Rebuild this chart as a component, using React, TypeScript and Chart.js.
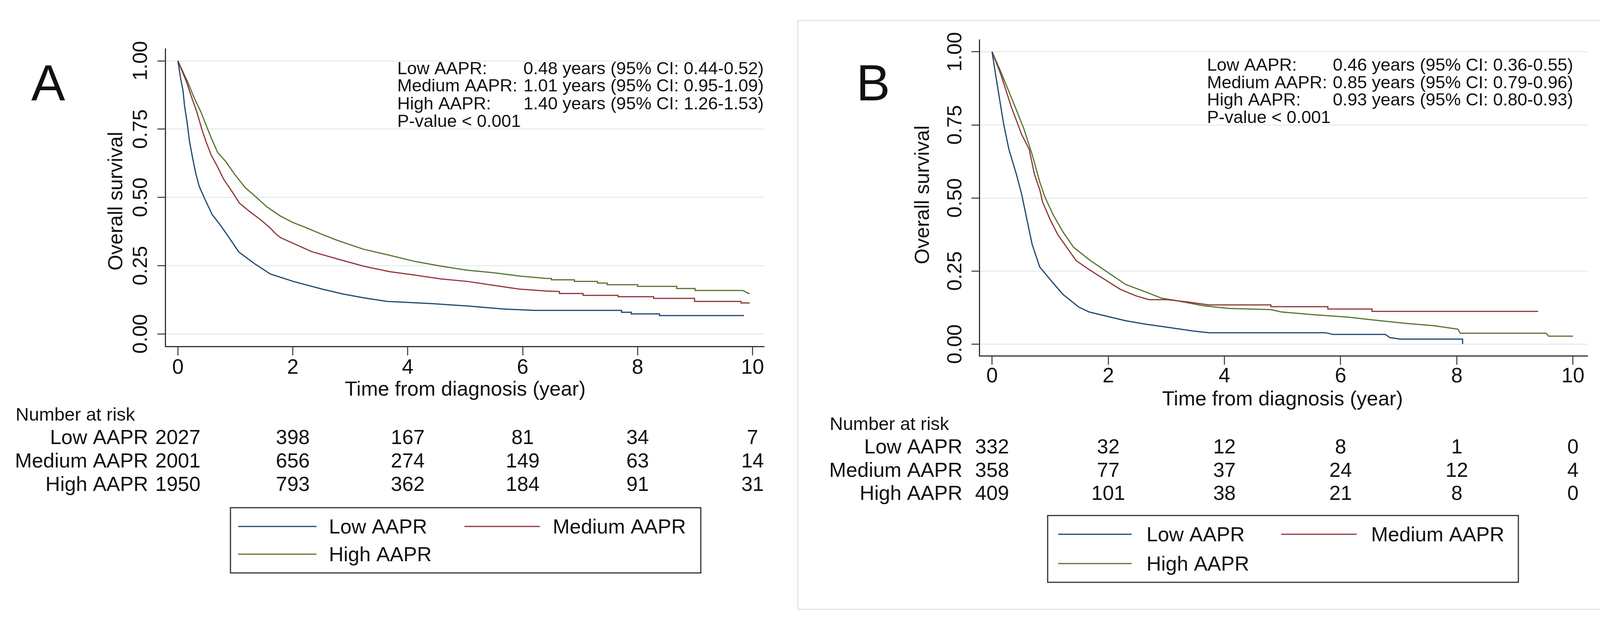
import React, { useEffect, useRef } from "react";
import { Chart, registerables } from "chart.js";

Chart.register(...registerables);

const FONT = '"Liberation Sans", Arial, Helvetica, sans-serif';
const W = 4168;
const H = 1608;

const GROUPS = ["Low AAPR", "Medium AAPR", "High AAPR"];
const COLORS = ["#1a476f", "#90353b", "#55752f"];
const X_TICKS = [0, 2, 4, 6, 8, 10];
const Y_TICKS = [0, 0.25, 0.5, 0.75, 1];
const X_TITLE = "Time from diagnosis (year)";
const Y_TITLE = "Overall survival";
const RISK_TITLE = "Number at risk";
const P_TEXT = "P-value < 0.001";
const ANNOT_LABELS = ["Low AAPR:", "Medium AAPR:", "High AAPR:"];

// ---------- Panel A ----------
const A_LOW_T = [0, 0.05, 0.09, 0.115, 0.16, 0.2, 0.25, 0.31, 0.37, 0.49, 0.6, 0.74, 0.85, 1.06, 1.34, 1.61, 2.01, 2.51, 2.87, 3.23, 3.64, 4.4, 5.04, 5.67, 6.21, 7.72, 7.72, 7.89, 7.89, 8.38, 8.38, 9.85];
const A_LOW_S = [1, 0.933, 0.89, 0.837, 0.775, 0.708, 0.651, 0.589, 0.541, 0.484, 0.436, 0.398, 0.365, 0.3, 0.256, 0.219, 0.192, 0.164, 0.146, 0.132, 0.119, 0.111, 0.102, 0.091, 0.086, 0.086, 0.079, 0.079, 0.073, 0.073, 0.067, 0.067];
const A_MED_T = [0, 0.15, 0.24, 0.33, 0.42, 0.49, 0.58, 0.69, 0.8, 0.94, 1.07, 1.26, 1.44, 1.6, 1.71, 1.79, 2.33, 2.78, 3.23, 3.68, 4.13, 4.58, 5.04, 5.49, 5.94, 6.39, 6.64, 6.64, 7.05, 7.05, 7.66, 7.66, 8.28, 8.28, 8.99, 8.99, 9.8, 9.8, 9.95];
const A_MED_S = [1, 0.923, 0.866, 0.813, 0.747, 0.704, 0.655, 0.612, 0.565, 0.522, 0.479, 0.446, 0.418, 0.389, 0.365, 0.352, 0.301, 0.274, 0.248, 0.228, 0.215, 0.201, 0.192, 0.178, 0.164, 0.157, 0.155, 0.148, 0.148, 0.141, 0.141, 0.136, 0.136, 0.13, 0.13, 0.119, 0.119, 0.113, 0.113];
const A_HIGH_T = [0, 0.17, 0.28, 0.4, 0.49, 0.58, 0.69, 0.83, 0.99, 1.17, 1.35, 1.55, 1.78, 2.0, 2.23, 2.5, 2.78, 3.23, 3.68, 4.13, 4.58, 5.04, 5.49, 5.94, 6.42, 6.5, 6.5, 6.9, 6.9, 7.3, 7.3, 7.47, 7.47, 8.0, 8.0, 8.68, 8.68, 9.0, 9.0, 9.83, 9.93, 9.95];
const A_HIGH_S = [1, 0.923, 0.866, 0.813, 0.765, 0.718, 0.665, 0.632, 0.584, 0.536, 0.503, 0.465, 0.432, 0.408, 0.389, 0.365, 0.342, 0.31, 0.288, 0.265, 0.248, 0.233, 0.224, 0.212, 0.203, 0.203, 0.198, 0.198, 0.192, 0.192, 0.186, 0.186, 0.18, 0.18, 0.174, 0.174, 0.166, 0.166, 0.159, 0.159, 0.148, 0.148];
const A_RISK_LOW = [2027, 398, 167, 81, 34, 7];
const A_RISK_MED = [2001, 656, 274, 149, 63, 14];
const A_RISK_HIGH = [1950, 793, 362, 184, 91, 31];
const A_MEDIANS = [
  "0.48 years (95% CI: 0.44-0.52)",
  "1.01 years (95% CI: 0.95-1.09)",
  "1.40 years (95% CI: 1.26-1.53)",
];

// ---------- Panel B ----------
const B_LOW_T = [0, 0.06, 0.13, 0.2, 0.29, 0.42, 0.51, 0.6, 0.69, 0.82, 1.0, 1.22, 1.49, 1.67, 1.94, 2.3, 2.65, 3.01, 3.46, 3.73, 5.74, 5.87, 6.77, 6.85, 7.03, 8.1, 8.1];
const B_LOW_S = [1, 0.923, 0.837, 0.752, 0.666, 0.58, 0.512, 0.426, 0.341, 0.264, 0.221, 0.17, 0.127, 0.11, 0.097, 0.08, 0.068, 0.058, 0.045, 0.039, 0.039, 0.033, 0.033, 0.022, 0.017, 0.017, 0.0];
const B_MED_T = [0, 0.15, 0.33, 0.51, 0.64, 0.73, 0.82, 0.87, 1.0, 1.13, 1.31, 1.45, 1.67, 1.94, 2.21, 2.48, 2.7, 3.01, 3.37, 3.73, 4.8, 4.8, 5.78, 5.78, 6.54, 6.54, 9.4];
const B_MED_S = [1, 0.923, 0.812, 0.717, 0.666, 0.58, 0.529, 0.486, 0.426, 0.375, 0.324, 0.285, 0.255, 0.221, 0.187, 0.165, 0.152, 0.152, 0.144, 0.134, 0.134, 0.128, 0.128, 0.12, 0.12, 0.112, 0.112];
const B_HIGH_T = [0, 0.15, 0.38, 0.55, 0.69, 0.82, 0.91, 1.05, 1.22, 1.4, 1.67, 1.98, 2.3, 2.65, 2.92, 3.19, 3.64, 4.08, 4.8, 4.98, 5.51, 6.14, 6.59, 7.12, 7.61, 8.02, 8.06, 9.54, 9.58, 10.0];
const B_HIGH_S = [1, 0.932, 0.82, 0.735, 0.649, 0.555, 0.503, 0.443, 0.384, 0.332, 0.289, 0.247, 0.204, 0.178, 0.157, 0.148, 0.131, 0.122, 0.118, 0.11, 0.101, 0.092, 0.082, 0.071, 0.063, 0.051, 0.037, 0.037, 0.027, 0.027];
const B_RISK_LOW = [332, 32, 12, 8, 1, 0];
const B_RISK_MED = [358, 77, 37, 24, 12, 4];
const B_RISK_HIGH = [409, 101, 38, 21, 8, 0];
const B_MEDIANS = [
  "0.46 years (95% CI: 0.36-0.55)",
  "0.85 years (95% CI: 0.79-0.96)",
  "0.93 years (95% CI: 0.80-0.93)",
];

type Panel = {
  id: string;
  letter: string;
  series: [number[], number[]][];
  risk: number[][];
  medians: string[];
  area: { left: number; right: number; top: number; bottom: number };
  xRange: [number, number];
  yRange: [number, number];
  letterX: number;
  yTickX: number;
  yTitleX: number;
  yTitleY: number;
  xTickBase: number;
  xTitleBase: number;
  riskX: number;
  riskHeaderBase: number;
  riskBases: number[];
  annotLabelX: number;
  annotValueX: number;
  annotBases: number[];
  legendBox: [number, number, number, number];
  legendRows: [number, number];
  legendCol1: [number, number, number];
  legendCol2: [number, number, number];
};

const PANELS: Panel[] = [
  {
    id: "A",
    letter: "A",
    series: [[A_LOW_T, A_LOW_S], [A_MED_T, A_MED_S], [A_HIGH_T, A_HIGH_S]],
    risk: [A_RISK_LOW, A_RISK_MED, A_RISK_HIGH],
    medians: A_MEDIANS,
    area: { left: 423, right: 1956, top: 125, bottom: 887 },
    xRange: [-0.22, 10.2],
    yRange: [-0.046, 1.044],
    letterX: 80,
    yTickX: 376,
    yTitleX: 313,
    yTitleY: 515,
    xTickBase: 957,
    xTitleBase: 1013,
    riskX: 40,
    riskHeaderBase: 1077,
    riskBases: [1137, 1197, 1257],
    annotLabelX: 1017,
    annotValueX: 1340,
    annotBases: [190, 234, 280, 325],
    legendBox: [590, 1300, 1794, 1467],
    legendRows: [1348, 1419],
    legendCol1: [610, 810, 842],
    legendCol2: [1189, 1382, 1415],
  },
  {
    id: "B",
    letter: "B",
    series: [[B_LOW_T, B_LOW_S], [B_MED_T, B_MED_S], [B_HIGH_T, B_HIGH_S]],
    risk: [B_RISK_LOW, B_RISK_MED, B_RISK_HIGH],
    medians: B_MEDIANS,
    area: { left: 2507, right: 4064, top: 102, bottom: 911 },
    xRange: [-0.22, 10.25],
    yRange: [-0.04, 1.041],
    letterX: 2192,
    yTickX: 2461,
    yTitleX: 2378,
    yTitleY: 499,
    xTickBase: 979,
    xTitleBase: 1038,
    riskX: 2124,
    riskHeaderBase: 1101,
    riskBases: [1161, 1221, 1280],
    annotLabelX: 3090,
    annotValueX: 3412,
    annotBases: [181, 226, 270, 315],
    legendBox: [2682, 1320, 3887, 1491],
    legendRows: [1368, 1443],
    legendCol1: [2709, 2897, 2935],
    legendCol2: [3280, 3473, 3510],
  },
];

const TEXT = "#111111";
const AXIS = "#333333";
const GRID = "#e3e9eb";

function makeOverlay(p: Panel) {
  return {
    id: "overlay" + p.id,
    afterDraw(chart: any) {
      const ctx: CanvasRenderingContext2D = chart.ctx;
      const xs = chart.scales.x;
      const ys = chart.scales.y;
      ctx.save();
      ctx.fillStyle = TEXT;

      // panel letter
      ctx.font = `130px ${FONT}`;
      ctx.textAlign = "left";
      ctx.textBaseline = "alphabetic";
      ctx.fillText(p.letter, p.letterX, 257);

      // y tick labels (rotated)
      ctx.font = `52px ${FONT}`;
      for (const v of Y_TICKS) {
        const y = ys.getPixelForValue(v);
        ctx.save();
        ctx.translate(p.yTickX, y);
        ctx.rotate(-Math.PI / 2);
        ctx.textAlign = "center";
        ctx.fillText(v.toFixed(2), 0, 0);
        ctx.restore();
      }
      // y title
      ctx.save();
      ctx.translate(p.yTitleX, p.yTitleY);
      ctx.rotate(-Math.PI / 2);
      ctx.textAlign = "center";
      ctx.font = `52px ${FONT}`;
      ctx.fillText(Y_TITLE, 0, 0);
      ctx.restore();

      // x tick labels
      ctx.font = `53px ${FONT}`;
      ctx.textAlign = "center";
      for (const v of X_TICKS) {
        ctx.fillText(String(v), xs.getPixelForValue(v), p.xTickBase);
      }
      // x title
      ctx.font = `52px ${FONT}`;
      ctx.fillText(X_TITLE, xs.getPixelForValue(5), p.xTitleBase);

      // annotation
      ctx.font = `45px ${FONT}`;
      ctx.textAlign = "left";
      for (let i = 0; i < 3; i++) {
        ctx.fillText(ANNOT_LABELS[i], p.annotLabelX, p.annotBases[i]);
        ctx.fillText(p.medians[i], p.annotValueX, p.annotBases[i]);
      }
      ctx.fillText(P_TEXT, p.annotLabelX, p.annotBases[3]);

      // number at risk
      ctx.font = `47px ${FONT}`;
      ctx.textAlign = "left";
      ctx.fillText(RISK_TITLE, p.riskX, p.riskHeaderBase);
      ctx.font = `52px ${FONT}`;
      const x0 = xs.getPixelForValue(0);
      for (let g = 0; g < 3; g++) {
        ctx.textAlign = "right";
        ctx.fillText(GROUPS[g], x0 - 76, p.riskBases[g]);
        ctx.textAlign = "center";
        p.risk[g].forEach((n, k) => {
          ctx.fillText(String(n), xs.getPixelForValue(X_TICKS[k]), p.riskBases[g]);
        });
      }

      // legend
      const [bx1, by1, bx2, by2] = p.legendBox;
      ctx.strokeStyle = AXIS;
      ctx.lineWidth = 3;
      ctx.strokeRect(bx1, by1, bx2 - bx1, by2 - by1);
      const items = [
        { g: 0, col: p.legendCol1, row: p.legendRows[0] },
        { g: 1, col: p.legendCol2, row: p.legendRows[0] },
        { g: 2, col: p.legendCol1, row: p.legendRows[1] },
      ];
      ctx.font = `52px ${FONT}`;
      ctx.textAlign = "left";
      for (const it of items) {
        ctx.strokeStyle = COLORS[it.g];
        ctx.lineWidth = 3;
        ctx.beginPath();
        ctx.moveTo(it.col[0], it.row);
        ctx.lineTo(it.col[1], it.row);
        ctx.stroke();
        ctx.fillText(GROUPS[it.g], it.col[2], it.row + 18);
      }
      ctx.restore();
    },
  };
}

function buildConfig(p: Panel): any {
  const yAxisW = 100;
  const xAxisH = 60;
  return {
    type: "line",
    data: {
      datasets: p.series.map(([t, s], g) => ({
        label: GROUPS[g],
        data: t.map((tv, i) => ({ x: tv, y: s[i] })),
        borderColor: COLORS[g],
        backgroundColor: COLORS[g],
        borderWidth: 3,
        pointRadius: 0,
        tension: 0,
        fill: false,
      })),
    },
    options: {
      responsive: false,
      animation: false,
      devicePixelRatio: 1,
      events: [],
      layout: {
        padding: {
          left: p.area.left - yAxisW,
          right: W - p.area.right,
          top: p.area.top,
          bottom: H - p.area.bottom - xAxisH,
        },
      },
      plugins: { legend: { display: false }, tooltip: { enabled: false }, title: { display: false } },
      scales: {
        x: {
          type: "linear",
          min: p.xRange[0],
          max: p.xRange[1],
          afterBuildTicks: (s: any) => {
            s.ticks = X_TICKS.map((v) => ({ value: v }));
          },
          afterFit: (s: any) => {
            s.height = xAxisH;
          },
          ticks: { display: false },
          grid: {
            drawOnChartArea: false,
            drawTicks: true,
            tickLength: 23,
            tickColor: AXIS,
            tickWidth: 2.5,
          },
          border: { display: true, color: AXIS, width: 3 },
        },
        y: {
          type: "linear",
          min: p.yRange[0],
          max: p.yRange[1],
          afterBuildTicks: (s: any) => {
            s.ticks = Y_TICKS.map((v) => ({ value: v }));
          },
          afterFit: (s: any) => {
            s.width = yAxisW;
          },
          ticks: { display: false },
          grid: {
            color: GRID,
            lineWidth: 2.5,
            drawTicks: true,
            tickLength: 20,
            tickColor: AXIS,
            tickWidth: 2.5,
          },
          border: { display: true, color: AXIS, width: 3 },
        },
      },
    },
    plugins: [makeOverlay(p)],
  };
}

function KMPanel({ panel }: { panel: Panel }) {
  const ref = useRef<HTMLCanvasElement | null>(null);
  useEffect(() => {
    if (!ref.current) return;
    const chart = new Chart(ref.current, buildConfig(panel));
    return () => chart.destroy();
  }, [panel]);
  return (
    <canvas
      ref={ref}
      width={W}
      height={H}
      style={{ position: "absolute", left: 0, top: 0, width: W, height: H }}
    />
  );
}

export default function App() {
  return (
    <div
      style={{
        position: "absolute",
        left: 0,
        top: 0,
        width: W,
        height: H,
        background: "#ffffff",
        overflow: "hidden",
      }}
    >
      <div
        style={{
          position: "absolute",
          left: 2041,
          top: 51,
          width: 4118 - 2041,
          height: 1562 - 51,
          border: "3px solid #e4e4e4",
          boxSizing: "border-box",
        }}
      />
      {PANELS.map((p) => (
        <KMPanel key={p.id} panel={p} />
      ))}
    </div>
  );
}
